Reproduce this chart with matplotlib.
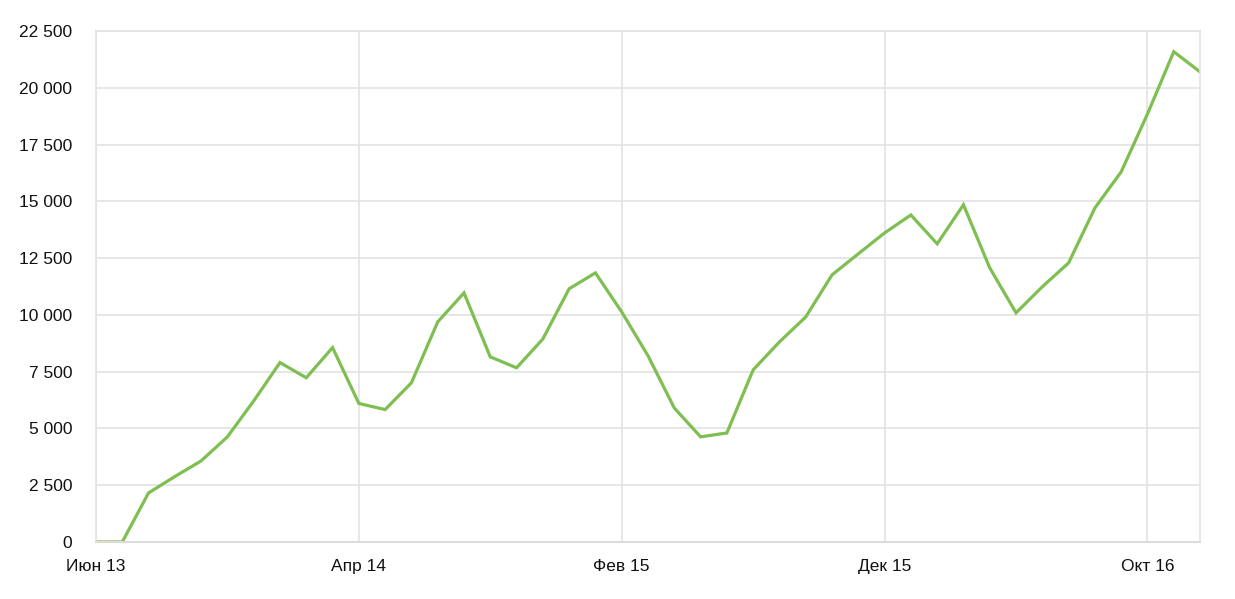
import matplotlib.pyplot as plt
from matplotlib.ticker import FuncFormatter

# monthly values, Jun 2013 .. Dec 2016
values = [0, 0, 2160, 2880, 3570, 4630, 6210, 7900, 7230, 8560,
          6100, 5830, 7010, 9690, 10970, 8150, 7670, 8940, 11150, 11850,
          10130, 8200, 5900, 4630, 4800, 7580, 8810, 9910, 11760, 12690,
          13610, 14400, 13130, 14850, 12070, 10090, 11240, 12290, 14710, 16300,
          18850, 21590, 20700]
tick_pos = [0, 10, 20, 30, 40]
tick_labels = ["Июн 13", "Апр 14", "Фев 15", "Дек 15", "Окт 16"]
y_ticks = [0, 2500, 5000, 7500, 10000, 12500, 15000, 17500, 20000, 22500]

plt.rcParams['font.family'] = ['Liberation Sans', 'DejaVu Sans']

fig = plt.figure(figsize=(12.35, 5.99), dpi=100)
ax = fig.add_axes([0.0777, 0.0952, 0.894, 0.853])

ax.plot(range(len(values)), values, color='#7fbf52', linewidth=2.3, solid_joinstyle='miter')

ax.set_xlim(0, len(values) - 1)
ax.set_ylim(0, 22500)
ax.set_xticks(tick_pos)
ax.set_xticklabels(tick_labels)
ax.set_yticks(y_ticks)
ax.yaxis.set_major_formatter(FuncFormatter(lambda v, p: f"{int(v):,}".replace(",", " ")))

ax.grid(True, color='#e3e3e3', linewidth=1.2)
ax.set_axisbelow(True)
for s in ax.spines.values():
    s.set_color('#e3e3e3')
    s.set_linewidth(1.2)
ax.spines['bottom'].set_color('#dcdcdc')
ax.spines['bottom'].set_linewidth(1.5)

ax.tick_params(axis='both', length=0, labelsize=12.5, colors='#111111')
ax.tick_params(axis='y', pad=17)
ax.tick_params(axis='x', pad=12)

fig.savefig('out.png', dpi=100, facecolor='white')
